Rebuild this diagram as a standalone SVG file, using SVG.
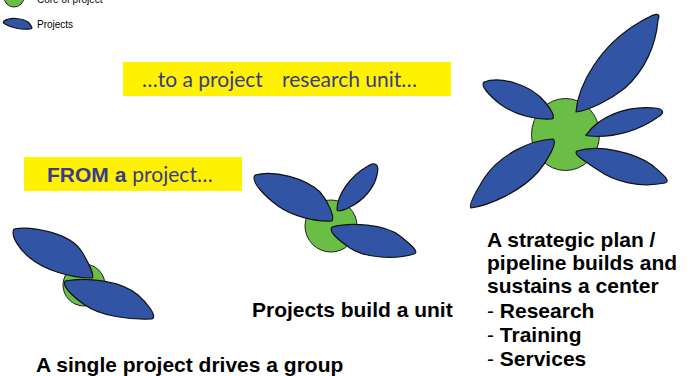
<svg xmlns="http://www.w3.org/2000/svg" width="688" height="376" viewBox="0 0 688 376">
<style>
.petal{fill:#3155A4;stroke:#111;stroke-width:1.2;stroke-linejoin:round}
.core{fill:#6ABD45;stroke:#222;stroke-width:1}
.box{fill:#FFF200}
.boxt{font-family:"Lato","Open Sans",sans-serif;font-size:21px;fill:#3A3A8E}
.boxb{font-family:"Liberation Sans",Arial,sans-serif;font-size:21px;font-weight:bold;fill:#3A3A8E}
.lbl{font-family:"Liberation Sans",Arial,sans-serif;font-size:21px;font-weight:bold;fill:#000}
.reg{font-weight:normal}
.leg{font-family:"Liberation Sans",Arial,sans-serif;font-size:10px;fill:#000}
</style>
<rect width="688" height="376" fill="#fff"/>
<g id="legend">
<circle class="core" cx="14" cy="-3" r="10"/>
<text class="leg" x="37" y="3">Core of project</text>
<path class="petal" d="M4,21 C10,17 22,18 28,22 C31,25 34,29 30,29 C20,30 10,27 5,24 C3,23 3,22 4,21 Z"/>
<text class="leg" x="37" y="28">Projects</text>
</g>
<g id="box-research-unit">
<rect class="box" x="123" y="62" width="328" height="34"/>
<text class="boxt" x="142" y="87">…to a project</text>
<text class="boxt" x="282" y="87">research unit…</text>
</g>
<g id="box-from-project">
<rect class="box" x="24" y="157" width="218" height="34"/>
<text x="47" y="182"><tspan class="boxb">FROM a</tspan><tspan class="boxt" dx="6">project…</tspan></text>
</g>
<g id="flower-single">
<circle class="core" cx="84" cy="285" r="21"/>
<path class="petal" d="M14,229 C30,226 70,232 82,252 C88,262 95,276 92,278 C70,278 45,270 30,258 C20,250 10,236 14,229 Z"/>
<path class="petal" d="M65,281 C85,277 120,280 138,295 C146,302 158,316 152,319 C130,320 100,316 85,305 C72,296 62,286 65,281 Z"/>
</g>
<g id="flower-unit">
<circle class="core" cx="331" cy="226" r="26"/>
<path class="petal" d="M255,175 C275,170 305,178 320,192 C327,200 335,216 332,221 C315,222 292,216 278,206 C266,197 250,182 255,175 Z"/>
<path class="petal" d="M337,210 C337,195 350,176 368,166 C374,162 380,163 377,175 C374,188 364,200 350,207 C345,210 338,212 337,210 Z"/>
<path class="petal" d="M332,227 C350,222 385,224 400,236 C410,244 420,252 414,254 C395,260 365,258 350,248 C340,241 328,232 332,227 Z"/>
</g>
<g id="flower-center">
<ellipse class="core" cx="565.5" cy="134.5" rx="34" ry="36"/>
<path class="petal" d="M484,82 C500,76 530,84 545,102 C551,109 556,118 552,119 C535,120 515,115 500,104 C490,96 480,86 484,82 Z"/>
<path class="petal" d="M576,112 C578,85 600,45 640,22 C652,15 662,10 658,20 C656,45 645,70 625,88 C610,100 590,110 576,112 Z"/>
<path class="petal" d="M587,134 C598,118 625,105 655,108 C664,109 665,113 658,117 C640,130 615,138 590,136 C585,136 585,135 587,134 Z"/>
<path class="petal" d="M577,151 C600,144 635,153 652,165 C660,172 672,181 665,183 C640,188 615,182 598,170 C588,163 572,154 577,151 Z"/>
<path class="petal" d="M553,139 C530,140 500,155 485,177 C478,188 468,205 471,208 C490,205 520,192 538,172 C548,160 558,142 553,139 Z"/>
</g>
<g id="label-center">
<text class="lbl" x="487" y="247">A strategic plan /</text>
<text class="lbl" x="487" y="270">pipeline builds and</text>
<text class="lbl" x="487" y="293">sustains a center</text>
<text class="lbl" x="487" y="318"><tspan class="reg">- </tspan>Research</text>
<text class="lbl" x="487" y="342"><tspan class="reg">- </tspan>Training</text>
<text class="lbl" x="487" y="366"><tspan class="reg">- </tspan>Services</text>
</g>
<g id="label-unit">
<text class="lbl" x="252" y="317">Projects build a unit</text>
</g>
<g id="label-single">
<text class="lbl" x="36" y="372">A single project drives a group</text>
</g>
</svg>
